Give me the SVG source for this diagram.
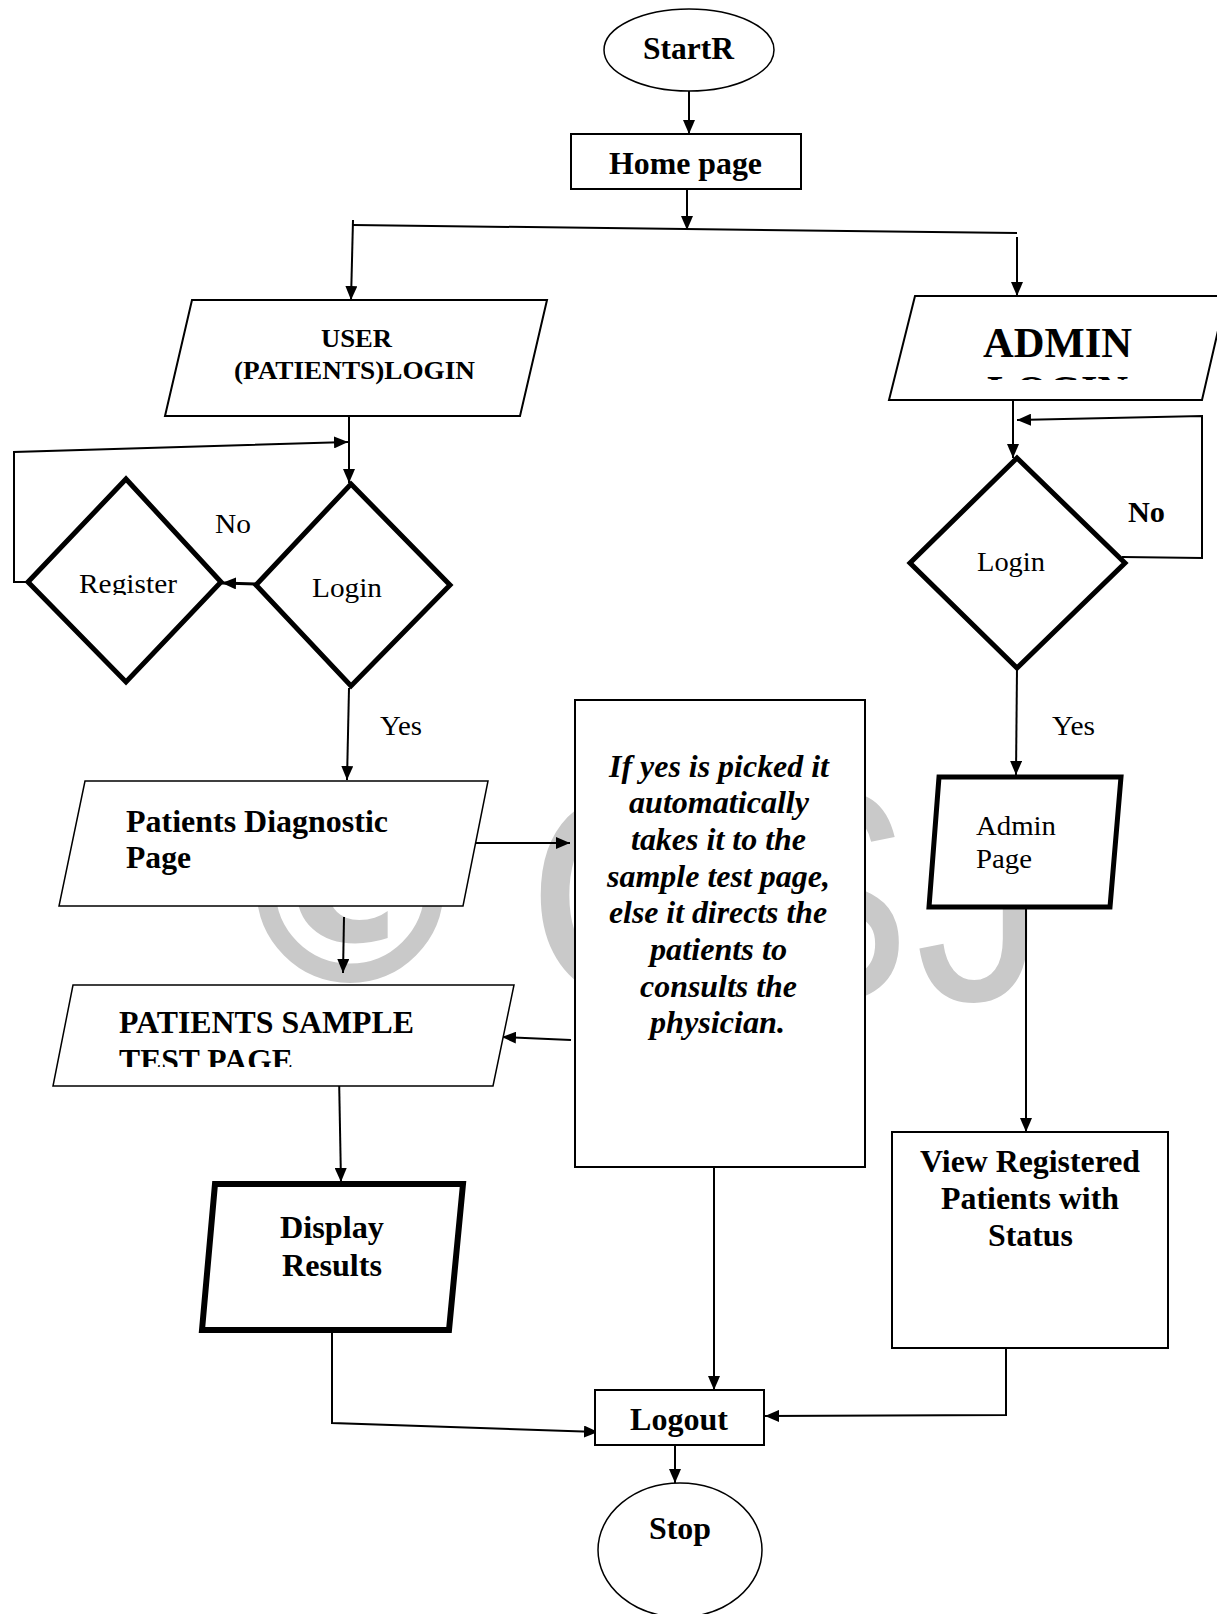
<svg xmlns="http://www.w3.org/2000/svg" width="1217" height="1614" viewBox="0 0 1217 1614">
<style>
.s{fill:#fff;stroke:#000;stroke-width:2}
.t{stroke-width:1.5}
.k{stroke-width:5}
.kk{stroke-width:6}
.c{fill:none;stroke:#000;stroke-width:2}
.h{stroke-width:3}
.b{font-family:"Liberation Serif","Times New Roman",serif;font-weight:bold;font-size:31px;fill:#000}
.r{font-family:"Liberation Serif","Times New Roman",serif;font-size:28px;fill:#000}
.n{font-family:"Liberation Serif","Times New Roman",serif;font-weight:bold;font-style:italic;font-size:31px;fill:#000}
.w{fill:#c9c9c9;text-anchor:middle}
</style>
<defs>
<marker id="a" markerUnits="userSpaceOnUse" markerWidth="14" markerHeight="12" refX="14" refY="6" orient="auto">
<path d="M0,0 L14,6 L0,12 z" fill="#000"/>
</marker>
<clipPath id="clipAdmin"><rect x="880" y="300" width="337" height="80"/></clipPath>
<clipPath id="clipTest"><rect x="60" y="990" width="460" height="77"/></clipPath>
<clipPath id="clipReg"><rect x="40" y="540" width="180" height="55"/></clipPath>
</defs>

<g id="watermark">
<text class="w" x="350" y="983" style="font-family:'DejaVu Sans',sans-serif;font-weight:bold;font-size:258px">©</text>
<text class="w" x="643" y="1000" style="font-family:'Liberation Sans',Arial,sans-serif;font-size:302px">G</text>
<text class="w" transform="translate(825,1000) scale(0.85,1)" style="font-family:'Liberation Sans',Arial,sans-serif;font-size:302px">S</text>
<text class="w" transform="translate(981,1000) scale(0.87,1)" style="font-family:'Liberation Sans',Arial,sans-serif;font-size:302px">J</text>
</g>

<g id="connectors">
<line class="c" x1="689" y1="91" x2="689" y2="134" marker-end="url(#a)"/>
<line class="c" x1="687" y1="189" x2="687" y2="230" marker-end="url(#a)"/>
<line class="c" x1="353" y1="225" x2="1017" y2="233"/>
<line class="c" x1="353" y1="220" x2="351" y2="300" marker-end="url(#a)"/>
<line class="c" x1="1017" y1="237" x2="1017" y2="296" marker-end="url(#a)"/>
<line class="c" x1="349" y1="416" x2="349" y2="483" marker-end="url(#a)"/>
<polyline class="c" points="29,582 14,582 14,452 348,442" marker-end="url(#a)"/>
<line class="c h" x1="256" y1="584" x2="222" y2="583" marker-end="url(#a)"/>
<line class="c" x1="349" y1="688" x2="347" y2="780" marker-end="url(#a)"/>
<line class="c" x1="453" y1="843" x2="570" y2="843" marker-end="url(#a)"/>
<line class="c" x1="344" y1="917" x2="343" y2="973" marker-end="url(#a)"/>
<line class="c" x1="571" y1="1040" x2="502" y2="1037" marker-end="url(#a)"/>
<line class="c" x1="339" y1="1075" x2="341" y2="1182" marker-end="url(#a)"/>
<polyline class="c" points="332,1332 332,1423 598,1432" marker-end="url(#a)"/>
<line class="c" x1="714" y1="1167" x2="714" y2="1390" marker-end="url(#a)"/>
<polyline class="c" points="1006,1348 1006,1415 765,1416" marker-end="url(#a)"/>
<line class="c" x1="675" y1="1445" x2="675" y2="1483" marker-end="url(#a)"/>
<line class="c" x1="1013" y1="392" x2="1013" y2="458" marker-end="url(#a)"/>
<polyline class="c" points="1122,557 1202,558 1202,416 1017,420" marker-end="url(#a)"/>
<line class="c" x1="1017" y1="668" x2="1016" y2="775" marker-end="url(#a)"/>
<line class="c" x1="1026" y1="907" x2="1026" y2="1132" marker-end="url(#a)"/>
</g>

<g id="start">
<ellipse class="s t" cx="689" cy="50" rx="85" ry="41"/>
<text class="b" x="643" y="59" style="font-size:32px" textLength="91" lengthAdjust="spacingAndGlyphs">StartR</text>
</g>
<g id="home">
<rect class="s" x="571" y="134" width="230" height="55"/>
<text class="b" x="609" y="174" textLength="153" lengthAdjust="spacingAndGlyphs">Home page</text>
</g>
<g id="user-login">
<polygon class="s" points="192,300 547,300 520,416 165,416"/>
<text class="b" x="321" y="347" style="font-size:25px" textLength="71" lengthAdjust="spacingAndGlyphs">USER</text>
<text class="b" x="234" y="379" style="font-size:25px" textLength="241" lengthAdjust="spacingAndGlyphs">(PATIENTS)LOGIN</text>
</g>
<g id="admin-login">
<polygon class="s" points="915,296 1226,296 1202,400 889,400"/>
<text class="b" x="983" y="357" style="font-size:42px" textLength="149" lengthAdjust="spacingAndGlyphs">ADMIN</text>
<text class="b" x="987" y="405" style="font-size:42px" textLength="141" lengthAdjust="spacingAndGlyphs" clip-path="url(#clipAdmin)">LOGIN</text>
</g>
<g id="register">
<polygon class="s k" points="126,479 221,582 126,682 28,582"/>
<text class="r" x="79" y="593" textLength="98" lengthAdjust="spacingAndGlyphs" clip-path="url(#clipReg)">Register</text>
</g>
<g id="user-login-decision">
<polygon class="s k" points="351,484 450,585 351,686 256,585"/>
<text class="r" x="312" y="597" textLength="70" lengthAdjust="spacingAndGlyphs">Login</text>
</g>
<g id="admin-login-decision">
<polygon class="s k" points="1017,458 1125,563 1017,668 910,563"/>
<text class="r" x="977" y="571" textLength="68" lengthAdjust="spacingAndGlyphs">Login</text>
</g>
<g id="labels">
<text class="r" x="215" y="533" textLength="36" lengthAdjust="spacingAndGlyphs">No</text>
<text class="b" x="1128" y="522" style="font-size:30px" textLength="37" lengthAdjust="spacingAndGlyphs">No</text>
<text class="r" x="380" y="735" textLength="42" lengthAdjust="spacingAndGlyphs">Yes</text>
<text class="r" x="1052" y="735" textLength="43" lengthAdjust="spacingAndGlyphs">Yes</text>
</g>
<g id="diagnostic">
<polygon class="s t" points="85,781 488,781 463,906 59,906"/>
<text class="b" x="126" y="832" textLength="262" lengthAdjust="spacingAndGlyphs">Patients Diagnostic</text>
<text class="b" x="126" y="868" textLength="65" lengthAdjust="spacingAndGlyphs">Page</text>
</g>
<g id="note">
<rect class="s" x="575" y="700" width="290" height="467"/>
<text class="n" x="609" y="777" textLength="220" lengthAdjust="spacingAndGlyphs">If yes is picked it</text>
<text class="n" x="629" y="813" textLength="180" lengthAdjust="spacingAndGlyphs">automatically</text>
<text class="n" x="631" y="850" textLength="175" lengthAdjust="spacingAndGlyphs">takes it to the</text>
<text class="n" x="607" y="887" textLength="223" lengthAdjust="spacingAndGlyphs">sample test page,</text>
<text class="n" x="609" y="923" textLength="218" lengthAdjust="spacingAndGlyphs">else it directs the</text>
<text class="n" x="650" y="960" textLength="137" lengthAdjust="spacingAndGlyphs">patients to</text>
<text class="n" x="640" y="997" textLength="157" lengthAdjust="spacingAndGlyphs">consults the</text>
<text class="n" x="650" y="1033" textLength="135" lengthAdjust="spacingAndGlyphs">physician.</text>
</g>
<g id="admin-page">
<polygon class="s k" points="939,777 1121,777 1110,907 929,907"/>
<text class="r" x="976" y="835" textLength="80" lengthAdjust="spacingAndGlyphs">Admin</text>
<text class="r" x="976" y="868" textLength="56" lengthAdjust="spacingAndGlyphs">Page</text>
</g>
<g id="sample-test">
<polygon class="s t" points="73,985 514,985 493,1086 53,1086"/>
<text class="b" x="119" y="1033" textLength="295" lengthAdjust="spacingAndGlyphs">PATIENTS SAMPLE</text>
<text class="b" x="119" y="1071" textLength="174" lengthAdjust="spacingAndGlyphs" clip-path="url(#clipTest)">TEST PAGE</text>
</g>
<g id="display-results">
<polygon class="s kk" points="215,1184 463,1184 449,1330 202,1330"/>
<text class="b" x="280" y="1238" textLength="104" lengthAdjust="spacingAndGlyphs">Display</text>
<text class="b" x="282" y="1276" textLength="100" lengthAdjust="spacingAndGlyphs">Results</text>
</g>
<g id="view-registered">
<rect class="s" x="892" y="1132" width="276" height="216"/>
<text class="b" x="920" y="1172" textLength="220" lengthAdjust="spacingAndGlyphs">View Registered</text>
<text class="b" x="941" y="1209" textLength="178" lengthAdjust="spacingAndGlyphs">Patients with</text>
<text class="b" x="988" y="1246" textLength="85" lengthAdjust="spacingAndGlyphs">Status</text>
</g>
<g id="logout">
<rect class="s" x="595" y="1390" width="169" height="55"/>
<text class="b" x="630" y="1430" textLength="98" lengthAdjust="spacingAndGlyphs">Logout</text>
</g>
<g id="stop">
<ellipse class="s t" cx="680" cy="1550" rx="82" ry="67"/>
<text class="b" x="649" y="1539" textLength="62" lengthAdjust="spacingAndGlyphs">Stop</text>
</g>
</svg>
